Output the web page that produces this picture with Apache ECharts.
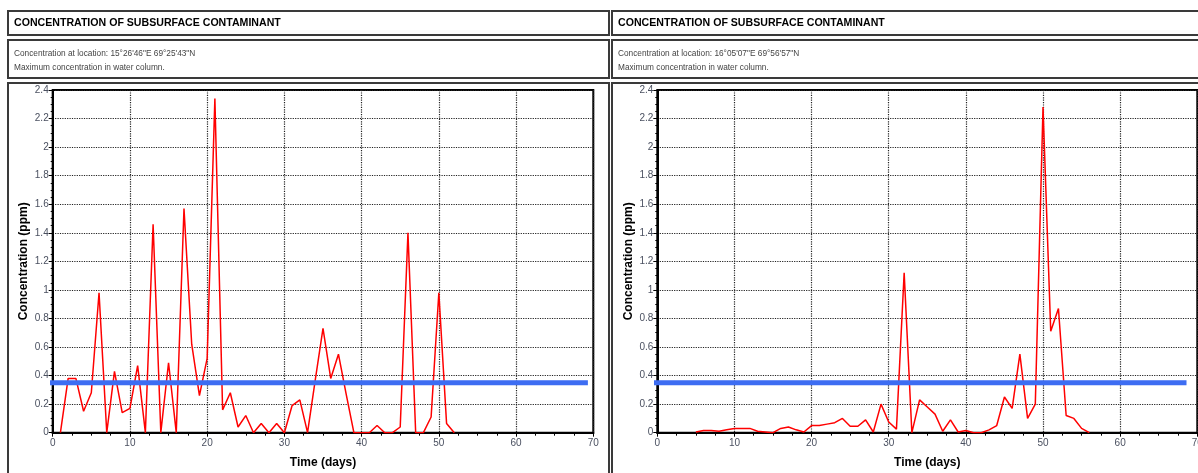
<!DOCTYPE html>
<html>
<head>
<meta charset="utf-8">
<style>
  html, body { margin: 0; padding: 0; background: #fff; }
  #chart { width: 1198px; height: 473px; }
</style>
</head>
<body>
<div id="chart"></div>
<script src="https://cdn.jsdelivr.net/npm/echarts@6/dist/echarts.min.js"></script>
<script>
// 数据：左图（15°26'46"E 69°25'43"N）
var leftDays = [1, 2, 3, 4, 5, 6, 7, 8, 9, 10, 11, 12, 13, 14, 15, 16, 17, 18, 19, 20,
  21, 22, 23, 24, 25, 26, 27, 28, 29, 30, 31, 32, 33, 34, 35, 36, 37, 38, 39, 40,
  41, 42, 43, 44, 45, 46, 47, 48, 49, 50, 51, 52];
var leftConc = [0, 0.38, 0.38, 0.15, 0.28, 0.98, 0, 0.43, 0.14, 0.17, 0.47, 0, 1.46, 0, 0.49, 0, 1.57, 0.62, 0.26, 0.52,
  2.34, 0.16, 0.28, 0.04, 0.12, 0, 0.065, 0, 0.065, 0, 0.19, 0.23, 0, 0.37, 0.73, 0.38, 0.55, 0.27, 0, 0,
  0, 0.05, 0, 0, 0.04, 1.40, 0, 0, 0.11, 0.98, 0.065, 0];

// 数据：右图（16°05'07"E 69°56'57"N）
var rightDays = [5, 6, 7, 8, 9, 10, 11, 12, 13, 14, 15, 16, 17, 18, 19, 20, 21, 22, 23, 24,
  25, 26, 27, 28, 29, 30, 31, 32, 33, 34, 35, 36, 37, 38, 39, 40, 41, 42, 43, 44,
  45, 46, 47, 48, 49, 50, 51, 52, 53, 54, 55, 56];
var rightConc = [0.005, 0.015, 0.015, 0.01, 0.02, 0.03, 0.03, 0.03, 0.01, 0.005, 0, 0.03, 0.04, 0.02, 0.005, 0.05, 0.05, 0.06, 0.07, 0.1,
  0.045, 0.045, 0.09, 0.005, 0.2, 0.075, 0.025, 1.12, 0, 0.23, 0.18, 0.13, 0.01, 0.09, 0.005, 0.015, 0, 0, 0.02, 0.05,
  0.25, 0.17, 0.55, 0.1, 0.2, 2.28, 0.71, 0.87, 0.12, 0.1, 0.03, 0];

// 阈值线（蓝色）
var threshold = 0.35;
var leftThrDays = [-2.2, 69.3];
var rightThrDays = [-2.7, 68.6];

var titleText = 'CONCENTRATION OF SUBSURFACE CONTAMINANT';
var leftSub = 'Concentration at location: 15\u00b026\'46"E 69\u00b025\'43"N\nMaximum concentration in water column.';
var rightSub = 'Concentration at location: 16\u00b005\'07"E 69\u00b056\'57"N\nMaximum concentration in water column.';

function pairs(xs, ys) {
  return xs.map(function (x, i) { return [x, ys[i]]; });
}

var FONT = '"Liberation Sans", Arial, sans-serif';

function xAxisOf(idx) {
  return {
    type: 'value', gridIndex: idx, min: 0, max: 70, interval: 10,
    name: 'Time (days)', nameLocation: 'middle', nameGap: 24,
    nameTextStyle: { fontFamily: FONT, fontWeight: 'bold', fontSize: 12, color: '#000' },
    axisLine: { lineStyle: { color: '#000', width: 2 } },
    axisTick: { show: true, length: 4, lineStyle: { color: '#000' } },
    minorTick: { show: true, splitNumber: 4, length: 3, lineStyle: { color: '#000' } },
    axisLabel: { fontFamily: FONT, fontSize: 10, color: '#4a5060', margin: 6 },
    splitLine: { show: true, lineStyle: { color: '#222', type: 'dotted', width: 1.2 } }
  };
}

function yAxisOf(idx) {
  return {
    type: 'value', gridIndex: idx, min: 0, max: 2.4, interval: 0.2,
    name: 'Concentration (ppm)', nameLocation: 'middle', nameGap: 23,
    nameTextStyle: { fontFamily: FONT, fontWeight: 'bold', fontSize: 12, color: '#000' },
    axisLine: { show: true, lineStyle: { color: '#000', width: 2 } },
    axisTick: { show: true, length: 4, lineStyle: { color: '#000' } },
    minorTick: { show: true, splitNumber: 4, length: 2, lineStyle: { color: '#000' } },
    axisLabel: { fontFamily: FONT, fontSize: 10, color: '#4a5060', margin: 4 },
    splitLine: { show: true, lineStyle: { color: '#222', type: 'dotted', width: 1.2 } }
  };
}

function panelBoxes(x, w) {
  var st = { fill: 'none', stroke: '#3a3a3a', lineWidth: 2 };
  return [
    { type: 'rect', shape: { x: x, y: 11, width: w, height: 24 }, style: st },
    { type: 'rect', shape: { x: x, y: 40, width: w, height: 38 }, style: st },
    { type: 'rect', shape: { x: x, y: 83, width: w, height: 420 }, style: st }
  ];
}

function panelTexts(x, sub) {
  return [
    { type: 'text', left: x + 6, top: 18,
      style: { text: titleText, font: 'bold 10.6px ' + FONT, fill: '#000' } },
    { type: 'text', left: x + 6, top: 47,
      style: { text: sub, font: '8.3px ' + FONT, fill: '#444', lineHeight: 14 } }
  ];
}

var chart = echarts.init(document.getElementById('chart'));

var option = {
  backgroundColor: '#fff',
  animation: false,
  graphic: [].concat(
    panelBoxes(8, 601), panelBoxes(612, 600),
    panelTexts(8, leftSub), panelTexts(612, rightSub)
  ),
  grid: [
    { left: 52.7, right: 604.7, top: 90, bottom: 40.3, show: true, borderColor: '#000', borderWidth: 2,
      outerBoundsMode: 'none', containLabel: false },
    { left: 657.3, right: 0.7, top: 90, bottom: 40.3, show: true, borderColor: '#000', borderWidth: 2,
      outerBoundsMode: 'none', containLabel: false }
  ],
  xAxis: [xAxisOf(0), xAxisOf(1)],
  yAxis: [yAxisOf(0), yAxisOf(1)],
  series: [
    { type: 'line', xAxisIndex: 0, yAxisIndex: 0, data: pairs(leftDays, leftConc),
      showSymbol: false, lineStyle: { color: '#ff0000', width: 1.5 } },
    { type: 'line', xAxisIndex: 1, yAxisIndex: 1, data: pairs(rightDays, rightConc),
      showSymbol: false, lineStyle: { color: '#ff0000', width: 1.5 } },
    { type: 'line', xAxisIndex: 0, yAxisIndex: 0, clip: false,
      data: leftThrDays.map(function (d) { return [d, threshold]; }),
      showSymbol: false, lineStyle: { color: '#3d6df2', width: 5 } },
    { type: 'line', xAxisIndex: 1, yAxisIndex: 1, clip: false,
      data: rightThrDays.map(function (d) { return [d, threshold]; }),
      showSymbol: false, lineStyle: { color: '#3d6df2', width: 5 } }
  ]
};

chart.setOption(option);
</script>
</body>
</html>
